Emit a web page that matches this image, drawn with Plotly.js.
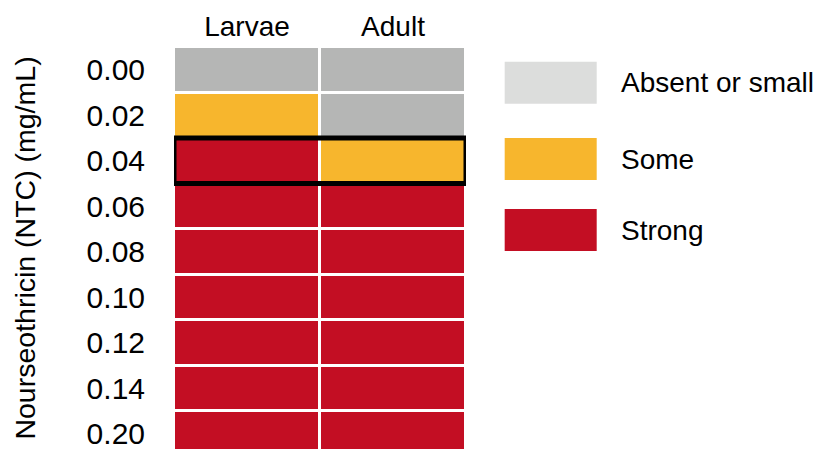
<!DOCTYPE html>
<html>
<head>
<meta charset="utf-8">
<script src="https://cdn.plot.ly/plotly-3.0.1.min.js"></script>
<style>html,body{margin:0;padding:0;background:#fff;}#chart{width:824px;height:449px;}</style>
</head>
<body>
<div id="chart"></div>
<script>
// Data
var stages = ["Larvae", "Adult"];
var concentrations = ["0.00", "0.02", "0.04", "0.06", "0.08", "0.10", "0.12", "0.14", "0.20"];
// 0 = Absent or small, 1 = Some, 2 = Strong
var larvaeResponse = [0, 1, 2, 2, 2, 2, 2, 2, 2];
var adultResponse  = [0, 0, 1, 2, 2, 2, 2, 2, 2];
var legendLabels = ["Absent or small", "Some", "Strong"];
var highlightRow = "0.04";

var cellColors = ["#b5b6b5", "#f7b62d", "#c30e23"];
var swatchColors = ["#dcdddc", "#f7b62d", "#c30e23"];

var z = concentrations.map(function (c, i) { return [larvaeResponse[i], adultResponse[i]]; });

var trace = {
  type: "heatmap",
  x: stages,
  y: concentrations,
  z: z,
  zmin: 0,
  zmax: 2,
  colorscale: [[0, cellColors[0]], [0.5, cellColors[1]], [1, cellColors[2]]],
  showscale: false,
  xgap: 3,
  ygap: 3,
  hoverinfo: "x+y+z"
};

var fam = "Liberation Sans, Arial, sans-serif";
var font = {family: fam, size: 28, color: "#000"};
var tickFont = {family: fam, size: 30, color: "#000"};
var titleFont = {family: fam, size: 28.5, color: "#000"};

var plotTop = 47, plotBottom = 449, plotH = plotBottom - plotTop;
function py(px) { return (plotBottom - px) / plotH; }
var swatchTops = [61.7, 138, 209];
var swatchH = 42;

var shapes = [];
var annotations = [];
var hi = concentrations.indexOf(highlightRow);
shapes.push({
  type: "rect", xref: "x", yref: "y",
  x0: -0.5, x1: 1.5, y0: hi - 0.5, y1: hi + 0.5,
  line: {color: "#000", width: 5}, fillcolor: "rgba(0,0,0,0)", layer: "above"
});
legendLabels.forEach(function (lab, i) {
  var t = swatchTops[i];
  shapes.push({
    type: "rect", xref: "paper", yref: "paper",
    x0: 1.1325, x1: 1.4476, y0: py(t + swatchH), y1: py(t),
    line: {width: 0}, fillcolor: swatchColors[i]
  });
  annotations.push({
    xref: "paper", yref: "paper", x: 1.523, y: py(t + swatchH / 2),
    xanchor: "left", yanchor: "middle", showarrow: false,
    text: lab, font: font
  });
});

var layout = {
  width: 824,
  height: 449,
  margin: {l: 174, r: 358, t: 47, b: 0, pad: 0},
  paper_bgcolor: "#fff",
  plot_bgcolor: "#fff",
  font: font,
  showlegend: false,
  xaxis: {
    side: "top", type: "category", range: [-0.5, 1.5],
    showgrid: false, zeroline: false, showline: false, ticks: "",
    ticklabelstandoff: 4, tickfont: font, fixedrange: true
  },
  yaxis: {
    type: "category", range: [8.335, -0.5],
    showgrid: false, zeroline: false, showline: false, ticks: "",
    ticklabelstandoff: 28, tickfont: tickFont, fixedrange: true,
    title: {text: "Nourseothricin (NTC) (mg/mL)", font: titleFont, standoff: 42}
  },
  shapes: shapes,
  annotations: annotations
};

Plotly.newPlot("chart", [trace], layout, {displayModeBar: false, staticPlot: true});
</script>
</body>
</html>
